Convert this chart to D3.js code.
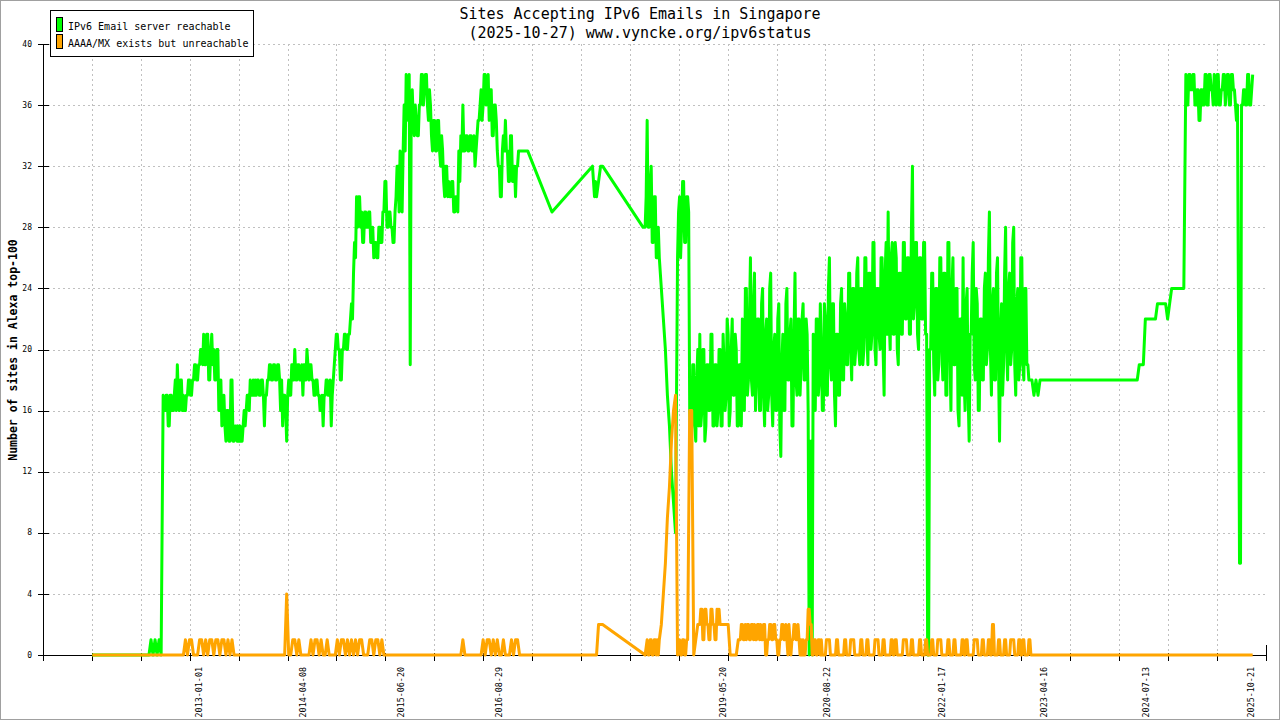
<!DOCTYPE html>
<html><head><meta charset="utf-8">
<script src="https://cdn.jsdelivr.net/npm/d3@7"></script>
<style>
body{margin:0;background:#fff}
svg{display:block}
text{font-family:"DejaVu Sans Mono","Liberation Mono",monospace;fill:#000}
</style>
</head><body>
<svg id="chart" width="1280" height="720"></svg>
<script>
// ---------------- DATA ----------------
const titleLines = ["Sites Accepting IPv6 Emails in Singapore", "(2025-10-27) www.vyncke.org/ipv6status"];
const yAxisTitle = "Number of sites in Alexa top-100";
const seriesNames = ["IPv6 Email server reachable", "AAAA/MX exists but unreachable"];
const seriesColors = ["#00ff00", "#ffa500"];
const xDomain = ["2011-02-08", "2025-12-24"];
const xTickIntervals = 25;
const xTickLabels = ["2013-01-01","2014-04-08","2015-06-20","2016-08-29","2019-05-20","2020-08-22","2022-01-17","2023-04-16","2024-07-13","2025-10-21"];
const yDomain = [0, 40];
const yTickValues = [0,4,8,12,16,20,24,28,32,36,40];
// one slot every 9 days; a slot may hold several readings taken within it
const sampleStart = "2011-09-15";
const sampleStepDays = 9;
const _ = null; // no reading

const reachable = [
0,0,0,0,0,0,0,0,0,0,
0,0,0,0,0,0,0,0,0,0,
0,0,0,0,0,0,0,0,0,1,
0,1,0,1,0,[17,16],[16,17],[17,15],[15,17],[17,16],
[16,17],[18,16],[19,17],[16,18],[18,16],[17,16],[16,17],[17,18],[18,17],[17,18],
[18,19],[19,18],[18,19],[19,20],[20,19],[21,19],[19,21],[21,18],[18,20],[21,19],
[20,18],[18,20],[20,16],[16,18],[15,16],[17,15],[14,16],[16,14],[14,18],[18,14],
[14,15],[15,14],[15,14],[15,14],[14,15],[16,15],[16,17],[17,16],[18,17],[17,18],
[17,18],[17,18],[18,17],[17,18],[18,17],[15,17],[17,18],[18,19],[19,18],[18,19],
[19,18],[18,19],[19,18],[16,18],[15,17],[17,16],[14,17],[18,17],[17,19],[19,18],
[20,18],[18,19],[19,18],[18,19],[17,19],[19,18],[20,19],[18,19],[19,18],[18,17],
[17,18],[18,17],[17,16],[16,17],[15,17],[17,18],[18,17],[17,18],[15,17],[18,19],
[20,21],[21,20],[20,18],[18,20],[20,21],[21,20],[20,21],[21,22],[23,22],[25,27],
[26,30],[28,30],[30,28],[29,27],[27,29],[29,28],[28,29],[29,27],[27,28],[26,27],
[27,26],[26,28],[28,27],[27,29],[29,31],[31,28],[28,29],[29,28],[28,27],[27,29],
[30,32],[32,29],[33,31],[29,33],[36,33],[38,36],[35,38],[19,36],[37,35],[34,36],
[35,34],[34,36],[36,38],[38,36],[37,38],[38,36],[35,37],[36,34],[33,35],[35,33],
[33,35],[35,33],[32,34],[33,31],[30,32],[32,30],[31,30],[30,31],[31,29],[29,30],
[30,29],[33,31],[34,33],[36,33],[33,34],[34,33],[33,34],[34,33],[33,34],[32,33],
[34,35],[35,36],[37,35],[36,38],[38,36],[37,38],[35,37],[37,34],[34,36],[36,35],
[33,32],[32,30],[30,33],[34,33],[35,33],[33,31],[31,34],[34,31],[31,32],[30,32],
[32,33],33,33,33,33,33,_,_,_,_,
_,_,_,_,_,_,_,29,_,_,
_,_,_,_,_,_,_,_,_,_,
_,_,_,_,_,_,_,32,[30,31],30,
31,32,32,_,_,_,_,_,_,_,
_,_,_,_,_,_,_,_,_,_,
_,_,28,[28,30],[35,28],[28,31],[32,27],[27,30],[30,26],[26,28],
26,24,22,20,17,15,12,10,8,[26,29],
[30,26],[28,31],[31,27],[27,30],[30,29],[16,14],[15,19],[19,15],[14,18],[20,15],
[21,15],[16,20],[20,14],[15,19],[19,16],[16,21],[21,15],[15,19],[19,15],[16,20],
[20,15],[15,21],[19,16],[17,22],[21,15],[16,20],[22,17],[17,21],[20,15],[15,19],
[19,15],[22,17],[16,24],[24,17],[18,22],[26,18],[17,23],[25,16],[18,22],[22,16],
[16,23],[24,17],[15,21],[22,16],[17,24],[25,17],[15,20],[21,16],[16,22],[23,15],
[13,19],[21,16],[16,23],[24,18],[18,21],[22,15],[15,21],[25,18],[17,22],[22,17],
[19,22],[23,18],[18,22],[21,16],[0,14],[14,0],[21,16],[16,22],[22,17],[18,23],
[20,16],[16,23],[22,17],[17,24],[26,19],[18,23],[23,17],[15,21],[21,17],[17,23],
[24,18],[18,23],[22,19],[19,25],[25,20],[18,24],[24,19],[20,25],[26,20],[19,24],
[24,19],[20,26],[26,21],[19,25],[25,20],[21,27],[27,20],[19,24],[24,21],[20,26],
[26,20],[17,25],[27,21],[29,22],[20,26],[27,21],[21,27],[26,20],[19,25],[25,21],
[21,27],[27,22],[22,26],[26,21],[21,28],[32,22],[23,27],[27,21],[20,26],[26,22],
[22,27],[27,21],[21,0],[0,20],[20,25],[25,19],[17,24],[24,18],[19,26],[26,20],
[18,25],[25,17],[17,27],[27,20],[16,24],[26,19],[19,24],[24,16],[15,22],[22,17],
[26,18],[16,23],[24,17],[14,21],[21,25],[27,19],[18,24],[23,16],[16,22],[22,18],
[18,24],[25,19],[20,26],[29,20],[17,23],[24,18],[18,25],[26,19],[14,21],[23,17],
[19,25],[28,20],[18,24],[25,19],[20,27],[28,19],[17,23],[24,18],[19,26],[26,19],
[18,24],[24,19],[19,18],18,18,17,18,17,18,18,
18,_,_,_,_,_,_,_,_,_,
_,_,_,_,_,_,_,_,_,_,
_,_,_,_,_,_,_,_,_,_,
_,_,_,_,_,_,_,_,_,_,
_,_,_,_,_,_,18,19,19,19,
22,22,22,22,22,22,23,23,23,23,
23,22,23,24,24,24,24,24,24,24,
[38,36],[36,38],[38,37],[37,38],[38,36],[36,37],[37,35],[35,37],[37,36],[36,38],
[38,36],[36,38],[38,37],[37,36],[38,37],[36,38],[38,36],[36,37],[37,38],[38,36],
[37,38],[38,36],[36,38],[38,37],[37,36],[35,36],[22,6],[6,36],[36,37],[37,36],
[36,38],[38,36],[36,37],38
];

const unreachable = [
0,0,0,0,0,0,0,0,0,0,
0,0,0,0,0,0,0,0,0,0,
0,0,0,0,0,0,0,0,0,0,
0,0,0,0,0,0,0,0,0,0,
0,0,0,0,0,0,1,0,1,1,
0,0,0,1,1,0,1,0,1,1,
0,1,1,0,1,1,0,1,0,1,
0,0,0,0,0,0,0,0,0,0,
0,0,0,0,0,0,0,0,0,0,
0,0,0,0,0,0,4,0,0,1,
1,0,1,0,0,0,0,0,1,0,
1,1,0,1,0,0,1,0,0,0,
0,1,0,1,1,0,1,0,1,0,
1,0,1,1,0,0,0,1,1,0,
1,1,0,1,0,0,0,0,0,0,
0,0,0,0,0,0,0,0,0,0,
0,0,0,0,0,0,0,0,0,0,
0,0,0,0,0,0,0,0,0,0,
0,0,0,1,0,0,0,0,0,0,
0,0,0,1,0,1,1,0,1,0,
1,0,0,1,0,0,0,1,0,1,
1,0,0,0,0,0,0,0,0,0,
0,0,0,0,0,0,0,0,0,0,
0,0,0,0,0,0,0,0,0,0,
0,0,0,0,0,0,0,0,0,0,
2,2,2,_,_,_,_,_,_,_,
_,_,_,_,_,_,_,_,_,_,
_,_,_,0,[1,0],[0,1],[1,0],[0,1],[1,0],[1,0],
1,2,4,6,9,11,14,16,17,0,
[1,0],[0,1],[1,0],[0,1],1,16,16,0,1,2,
[2,3],[3,1],[1,3],[3,2],[2,1],[1,3],[3,2],[2,1],[1,3],[2,3],
2,2,2,2,2,0,0,0,0,1,
[1,2],[2,1],[1,2],[1,2],[2,1],[1,2],[2,1],[2,1],[1,2],[2,1],
[2,1],[1,2],[2,0],[0,1],[1,2],[2,1],[1,2],[2,1],[1,0],[0,1],
[1,2],[2,1],[1,2],[1,0],[2,1],[0,1],[1,2],[2,1],[1,2],[1,0],
[1,0],[1,0],[0,1],[1,3],[3,2],[2,0],[0,1],[1,0],[0,1],[1,0],
[1,0],0,[0,1],1,[1,0],0,0,[0,1],[1,0],0,
0,[0,1],[1,0],0,[0,1],1,[1,0],0,0,[0,1],
[1,0],0,[0,1],[1,0],0,0,[0,1],1,[1,0],0,
[0,1],[1,0],0,0,[0,1],[1,0],[0,1],[1,0],0,0,
[0,1],1,[1,0],0,[0,1],[1,0],0,0,[0,1],[1,0],
0,[0,1],[1,0],0,[0,1],[1,0],0,[0,1],1,[1,0],
0,0,[0,1],[1,0],0,[0,1],[1,0],0,0,[0,1],
[1,0],[0,1],[1,0],0,0,[0,1],1,[1,0],0,[0,1],
[1,0],0,[0,1],[1,0],[0,2],[2,0],0,[0,1],[1,0],0,
[0,1],[1,0],0,[0,1],1,[1,0],0,[0,1],[1,0],[0,1],
[1,0],0,[0,1],[1,0],0,0,0,0,0,0,
0,0,0,0,0,0,0,0,0,0,
0,0,0,0,0,0,0,0,0,0,
0,0,0,0,0,0,0,0,0,0,
0,0,0,0,0,0,0,0,0,0,
0,0,0,0,0,0,0,0,0,0,
0,0,0,0,0,0,0,0,0,0,
0,0,0,0,0,0,0,0,0,0,
0,0,0,0,0,0,0,0,0,0,
0,0,0,0,0,0,0,0,0,0,
0,0,0,0,0,0,0,0,0,0,
0,0,0,0
];

// ---------------- CHART ----------------
const parse = d3.utcParse("%Y-%m-%d");
const svg = d3.select("#chart");
const plot = {left: 43, right: 1265.5, top: 44, bottom: 655};

const x = d3.scaleUtc().domain(xDomain.map(parse)).range([plot.left, plot.right]);
const y = d3.scaleLinear().domain(yDomain).range([plot.bottom, plot.top]);

const start = parse(sampleStart);
const dayMs = 864e5;
const toPoints = arr => {
  const pts = [];
  arr.forEach((slot, i) => {
    if (slot === null) return;
    const vals = Array.isArray(slot) ? slot : [slot];
    vals.forEach((v, j) => pts.push({
      date: new Date(+start + (i + j / vals.length) * sampleStepDays * dayMs), v}));
  });
  return pts;
};

// background + border
svg.append("rect").attr("x", 0.5).attr("y", 0.5).attr("width", 1279).attr("height", 719)
  .attr("fill", "#fff").attr("stroke", "#a0a0a0");

// regular x ticks
const [d0, d1] = x.domain();
const xTicks = d3.range(xTickIntervals + 1).map(i => new Date(+d0 + (d1 - d0) * i / xTickIntervals));

const grid = svg.append("g").attr("stroke", "#c0c0c0").attr("stroke-dasharray", "2,3")
  .attr("shape-rendering", "crispEdges");
grid.selectAll("line.h").data(yTickValues.filter(v => v > 0)).join("line")
  .attr("x1", plot.left).attr("x2", plot.right)
  .attr("y1", d => Math.round(y(d)) + 0.5).attr("y2", d => Math.round(y(d)) + 0.5);
grid.selectAll("line.v").data(xTicks.slice(1, -1)).join("line").attr("class", "v")
  .attr("y1", plot.top).attr("y2", plot.bottom)
  .attr("x1", d => Math.round(x(d)) + 0.5).attr("x2", d => Math.round(x(d)) + 0.5);

// axes
const ax = svg.append("g").attr("stroke", "#000").attr("shape-rendering", "crispEdges");
ax.append("line").attr("x1", plot.left + 0.5).attr("x2", plot.left + 0.5)
  .attr("y1", plot.top).attr("y2", plot.bottom + 1);
ax.append("line").attr("x1", plot.left).attr("x2", plot.right)
  .attr("y1", plot.bottom + 0.5).attr("y2", plot.bottom + 0.5);
ax.selectAll("line.yt").data(yTickValues).join("line").attr("class", "yt")
  .attr("x1", plot.left - 5).attr("x2", plot.left + 6)
  .attr("y1", d => Math.round(y(d)) + 0.5).attr("y2", d => Math.round(y(d)) + 0.5);
ax.selectAll("line.xt").data(xTicks).join("line").attr("class", "xt")
  .attr("x1", d => Math.round(x(d)) + 0.5).attr("x2", d => Math.round(x(d)) + 0.5)
  .attr("y1", (d, i) => i === xTicks.length - 1 ? plot.bottom - 10 : plot.bottom - 2)
  .attr("y2", plot.bottom + 6);

// y tick labels
svg.append("g").selectAll("text").data(yTickValues).join("text")
  .attr("x", plot.left - 11).attr("y", d => y(d)).attr("dy", "0.33em")
  .attr("text-anchor", "end").attr("font-size", "8px").text(d => d);

// x tick labels (rotated)
svg.append("g").selectAll("text").data(xTickLabels).join("text")
  .attr("transform", d => `translate(${x(parse(d))},667) rotate(-90)`)
  .attr("dy", "0.33em").attr("text-anchor", "end").attr("font-size", "8.4px").text(d => d);

// y axis title
svg.append("text").attr("transform", "translate(13,350) rotate(-90)")
  .attr("dy", "0.35em").attr("text-anchor", "middle").attr("font-size", "11.5px")
  .attr("font-weight", "bold").text(yAxisTitle);

// title
svg.append("g").selectAll("text").data(titleLines).join("text")
  .attr("x", 640).attr("y", (d, i) => 18.5 + i * 19).attr("text-anchor", "middle")
  .attr("font-size", "15px").text(d => d);

// series lines
const line = d3.line().x(d => x(d.date)).y(d => y(d.v));
[reachable, unreachable].forEach((arr, i) => {
  svg.append("path").datum(toPoints(arr)).attr("d", line)
    .attr("fill", "none").attr("stroke", seriesColors[i]).attr("stroke-width", 3)
    .attr("stroke-linejoin", "round");
});

// legend
const lg = svg.append("g");
lg.append("rect").attr("x", 50.5).attr("y", 10.5).attr("width", 203).attr("height", 46)
  .attr("fill", "#fff").attr("stroke", "#000");
seriesNames.forEach((name, i) => {
  lg.append("rect").attr("x", 56.5).attr("y", 17.5 + i * 17).attr("width", 6).attr("height", 14)
    .attr("fill", seriesColors[i]).attr("stroke", "#000");
  lg.append("text").attr("x", 68).attr("y", 29.5 + i * 17).attr("font-size", "10px").text(name);
});
</script>
</body></html>
